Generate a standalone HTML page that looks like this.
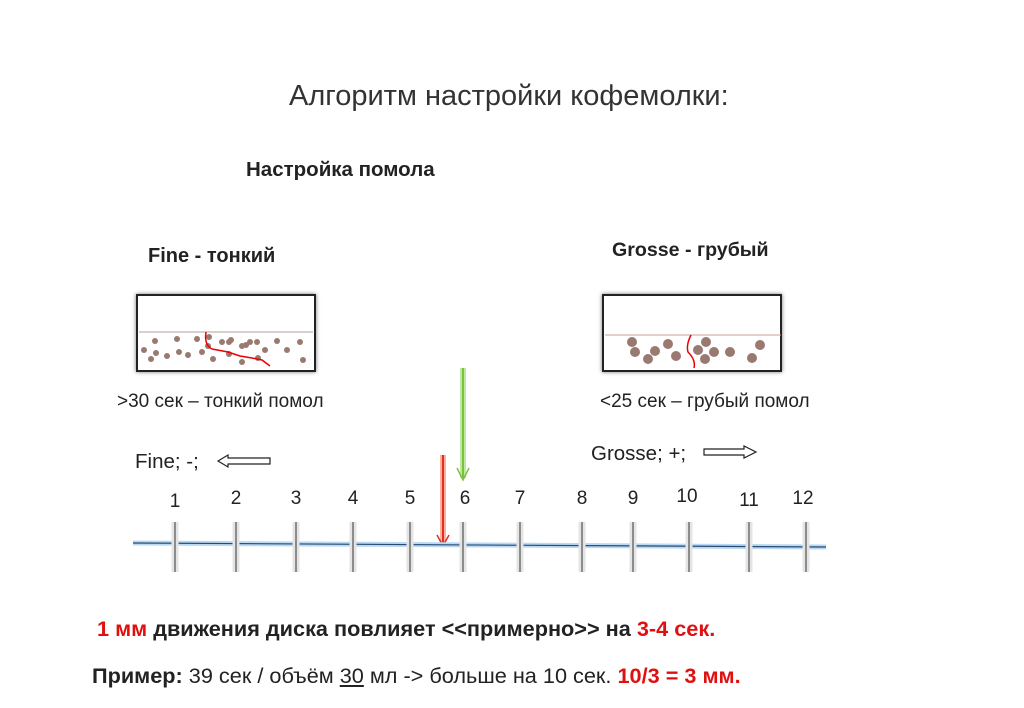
<!DOCTYPE html>
<html><head><meta charset="utf-8"><style>
body{margin:0;width:1024px;height:708px;background:#fff;position:relative;overflow:hidden;font-family:"Liberation Sans","DejaVu Sans",sans-serif;color:#222}
.t{position:absolute;white-space:nowrap}
.box{position:absolute;border:2px solid #222;box-shadow:0 0 4px #777;background:#fff}
.num{position:absolute;font-size:19px;top:488px;width:30px;text-align:center;margin-left:-15px}
</style></head><body>
<div class="t" style="left:289px;top:80px;font-size:29px;color:#333">Алгоритм настройки кофемолки:</div>
<div class="t" style="left:246px;top:158px;font-size:20.5px;font-weight:bold">Настройка помола</div>
<div class="t" style="left:148px;top:245px;font-size:20px;font-weight:bold">Fine - тонкий</div>
<div class="t" style="left:612px;top:239px;font-size:19.6px;font-weight:bold">Grosse - грубый</div>
<div class="t" style="left:117px;top:391px;font-size:19px">&gt;30 сек – тонкий помол</div>
<div class="t" style="left:600px;top:391px;font-size:19px">&lt;25 сек – грубый помол</div>
<div class="t" style="left:135px;top:450px;font-size:20.5px">Fine; -;</div>
<div class="t" style="left:591px;top:442px;font-size:20.5px">Grosse; +;</div>
<div class="box" style="left:136px;top:294px;width:176px;height:74px"></div>
<div class="box" style="left:602px;top:294px;width:176px;height:74px"></div>
<svg width="1024" height="708" style="position:absolute;left:0;top:0">
<line x1="139" y1="332" x2="313" y2="332" stroke="#b0a09a"/>
<line x1="605" y1="335" x2="781" y2="335" stroke="#c8a090"/>
<g fill="#9a7a70">
<circle cx="144" cy="350" r="3"/><circle cx="155" cy="341" r="3"/><circle cx="151" cy="359" r="3"/><circle cx="156" cy="353" r="3"/><circle cx="167" cy="356" r="3"/><circle cx="177" cy="339" r="3"/><circle cx="179" cy="352" r="3"/><circle cx="188" cy="355" r="3"/><circle cx="197" cy="339" r="3"/><circle cx="208" cy="346" r="3"/><circle cx="202" cy="352" r="3"/><circle cx="213" cy="359" r="3"/><circle cx="222" cy="342" r="3"/><circle cx="209" cy="337" r="3"/><circle cx="229" cy="342" r="3"/><circle cx="229" cy="354" r="3"/><circle cx="242" cy="346" r="3"/><circle cx="242" cy="362" r="3"/><circle cx="231" cy="340" r="3"/><circle cx="250" cy="342" r="3"/><circle cx="258" cy="358" r="3"/><circle cx="265" cy="350" r="3"/><circle cx="246" cy="345" r="3"/><circle cx="257" cy="342" r="3"/><circle cx="277" cy="341" r="3"/><circle cx="287" cy="350" r="3"/><circle cx="300" cy="342" r="3"/><circle cx="303" cy="360" r="3"/>
<circle cx="632" cy="342" r="5"/><circle cx="635" cy="352" r="5"/><circle cx="648" cy="359" r="5"/><circle cx="655" cy="351" r="5"/><circle cx="668" cy="344" r="5"/><circle cx="676" cy="356" r="5"/><circle cx="698" cy="350" r="5"/><circle cx="706" cy="342" r="5"/><circle cx="714" cy="352" r="5"/><circle cx="705" cy="359" r="5"/><circle cx="730" cy="352" r="5"/><circle cx="752" cy="358" r="5"/><circle cx="760" cy="345" r="5"/>
</g>
<path d="M206 332 Q204 345 212 349 L228 352 L240 356 L252 358 L262 360 L270 366" stroke="#e00" stroke-width="1.5" fill="none"/>
<path d="M691 335 Q686 345 688 352 Q696 360 694 368" stroke="#e00" stroke-width="1.5" fill="none"/>
<line x1="463" y1="368" x2="463" y2="478" stroke="#bfe8a0" stroke-width="6"/>
<line x1="463" y1="368" x2="463" y2="478" stroke="#7cc040" stroke-width="2"/>
<path d="M457 468 L463 480 L469 468" stroke="#7cc040" stroke-width="1.5" fill="none"/>
<line x1="443" y1="455" x2="443" y2="545" stroke="#ffb0a0" stroke-width="6"/>
<line x1="443" y1="455" x2="443" y2="545" stroke="#e03020" stroke-width="2"/>
<path d="M437 535 L443 546 L449 535" stroke="#e03020" stroke-width="1.5" fill="none"/>
<path d="M218 461 L228 455 L228 458 L270 458 L270 464 L228 464 L228 467 Z" fill="#fff" stroke="#222" stroke-width="1.2"/>
<path d="M704 449 L744 449 L744 446 L756 452 L744 458 L744 455 L704 455 Z" fill="#fff" stroke="#222" stroke-width="1.2"/>
<line x1="133" y1="543" x2="826" y2="547" stroke="#b8d8f4" stroke-width="5"/>
<line x1="133" y1="543" x2="826" y2="547" stroke="#2a4a70" stroke-width="1.2"/>
<g stroke="#e4e4e4" stroke-width="7">
<line x1="175" y1="522" x2="175" y2="572"/><line x1="236" y1="522" x2="236" y2="572"/><line x1="296" y1="522" x2="296" y2="572"/><line x1="353" y1="522" x2="353" y2="572"/><line x1="410" y1="522" x2="410" y2="572"/><line x1="463" y1="522" x2="463" y2="572"/><line x1="520" y1="522" x2="520" y2="572"/><line x1="582" y1="522" x2="582" y2="572"/><line x1="633" y1="522" x2="633" y2="572"/><line x1="689" y1="522" x2="689" y2="572"/><line x1="749" y1="522" x2="749" y2="572"/><line x1="806" y1="522" x2="806" y2="572"/>
</g>
<g stroke="#333" stroke-width="1">
<line x1="175" y1="522" x2="175" y2="572"/><line x1="236" y1="522" x2="236" y2="572"/><line x1="296" y1="522" x2="296" y2="572"/><line x1="353" y1="522" x2="353" y2="572"/><line x1="410" y1="522" x2="410" y2="572"/><line x1="463" y1="522" x2="463" y2="572"/><line x1="520" y1="522" x2="520" y2="572"/><line x1="582" y1="522" x2="582" y2="572"/><line x1="633" y1="522" x2="633" y2="572"/><line x1="689" y1="522" x2="689" y2="572"/><line x1="749" y1="522" x2="749" y2="572"/><line x1="806" y1="522" x2="806" y2="572"/>
</g>
</svg>
<div class="num" style="left:175px;top:491px">1</div><div class="num" style="left:236px">2</div><div class="num" style="left:296px">3</div><div class="num" style="left:353px">4</div><div class="num" style="left:410px">5</div><div class="num" style="left:465px">6</div><div class="num" style="left:520px">7</div><div class="num" style="left:582px">8</div><div class="num" style="left:633px">9</div><div class="num" style="left:687px;top:486px">10</div><div class="num" style="left:749px;top:490px">11</div><div class="num" style="left:803px">12</div>
<div class="t" style="left:97px;top:616px;font-size:21.7px;font-weight:bold"><span style="color:#e01010">1 мм</span> движения диска повлияет &lt;&lt;примерно&gt;&gt; на <span style="color:#e01010">3-4 сек.</span></div>
<div class="t" style="left:92px;top:663px;font-size:21.7px"><b>Пример:</b> 39 сек / объём <u>30</u> мл -&gt; больше на 10 сек. <b style="color:#e01010">10/3 = 3 мм.</b></div>
</body></html>
